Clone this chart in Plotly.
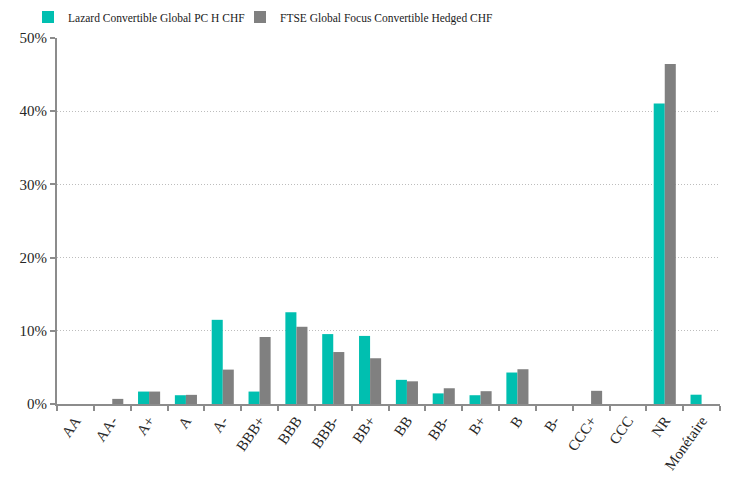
import plotly.graph_objects as go

categories = ["AA", "AA-", "A+", "A", "A-", "BBB+", "BBB", "BBB-", "BB+", "BB", "BB-",
              "B+", "B", "B-", "CCC+", "CCC", "NR", "Monétaire"]
lazard = [0, 0, 1.7, 1.2, 11.5, 1.7, 12.55, 9.55, 9.3, 3.3, 1.45, 1.2, 4.3, 0, 0, 0, 41.05, 1.27]
ftse = [0, 0.7, 1.7, 1.25, 4.7, 9.15, 10.55, 7.1, 6.25, 3.1, 2.15, 1.75, 4.75, 0, 1.8, 0, 46.45, 0]
series_names = ["Lazard Convertible Global PC H CHF", "FTSE Global Focus Convertible Hedged CHF"]
y_ticks = [0, 10, 20, 30, 40, 50]
y_tick_labels = ["0%", "10%", "20%", "30%", "40%", "50%"]

font_family = "Liberation Serif, DejaVu Serif, serif"

W, H = 724, 469  # page body has an 8px default margin

fig = go.Figure()
fig.add_trace(go.Bar(x=categories, y=lazard, name=series_names[0], legend="legend",
                     marker=dict(color="#00BFB0", line=dict(width=0))))
fig.add_trace(go.Bar(x=categories, y=ftse, name=series_names[1], legend="legend2",
                     marker=dict(color="#808080", line=dict(width=0))))

legend_common = dict(orientation="h", xref="container", yref="container",
                     xanchor="left", yanchor="middle", bgcolor="rgba(0,0,0,0)",
                     font=dict(size=11.5, color="#1a1a1a", family=font_family))

fig.update_layout(
    width=W, height=H,
    margin=dict(l=49, r=12, t=30, b=73, autoexpand=False),
    paper_bgcolor="white", plot_bgcolor="white",
    barmode="group", bargap=0.4, bargroupgap=0,
    font=dict(family=font_family, size=15, color="#262626"),
    legend=dict(x=20 / W, y=1 - 9 / H, **legend_common),
    legend2=dict(x=232 / W, y=1 - 9 / H, **legend_common),
    showlegend=True,
)
fig.update_xaxes(
    type="category", tickangle=-55, showline=True, linecolor="#8c8c8c", linewidth=2,
    ticks="outside", tickson="boundaries", ticklen=5, tickcolor="#8c8c8c", tickwidth=2,
    showgrid=False, tickfont=dict(size=15, family=font_family, color="#262626"),
    automargin=False,
)
fig.update_yaxes(
    range=[0, 50], tickvals=y_ticks, ticktext=y_tick_labels,
    showline=True, linecolor="#8c8c8c", linewidth=2,
    ticks="outside", ticklen=5, tickcolor="#8c8c8c", tickwidth=2,
    showgrid=True, gridcolor="#bdbdbd", griddash="1px,2px", gridwidth=1,
    zeroline=False, tickfont=dict(size=15, family=font_family, color="#262626"),
    automargin=False,
)

fig.write_html("out.html")
